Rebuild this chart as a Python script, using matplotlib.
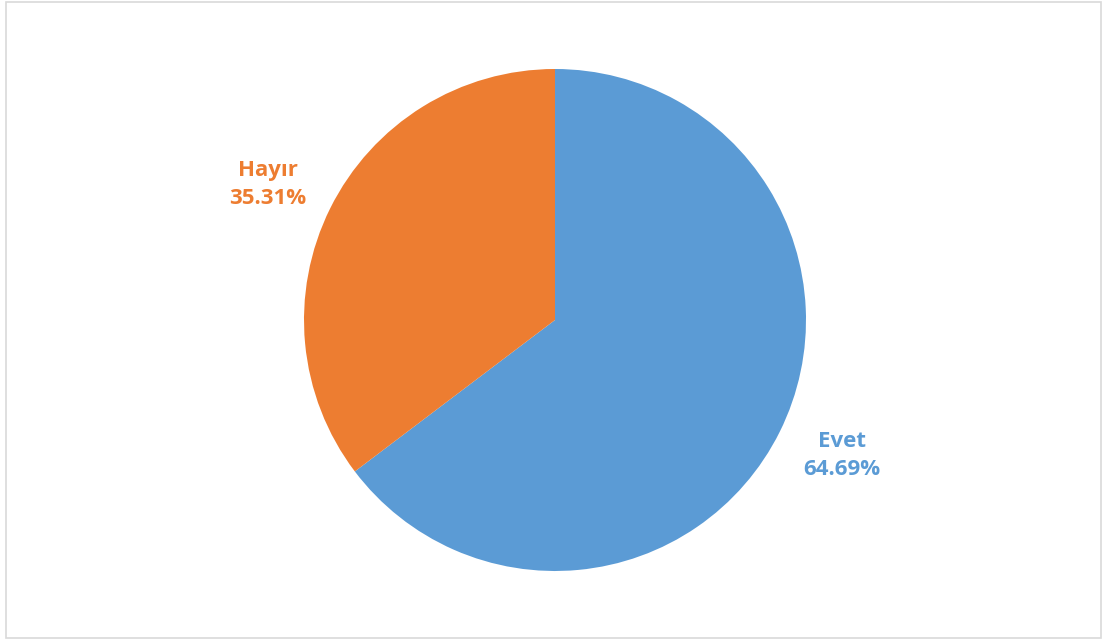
import matplotlib
matplotlib.use("Agg")
import matplotlib.pyplot as plt
from matplotlib.patches import Rectangle
import numpy as np

categories = ["Evet", "Hayır"]
values = [64.69, 35.31]
colors = ["#5B9BD5", "#ED7D31"]

W, H = 1103, 639
fig = plt.figure(figsize=(W / 100, H / 100), dpi=100)
ax = fig.add_axes([0, 0, 1, 1])

# border
fig.patches.append(Rectangle((5.5 / W, 1.5 / H), (1101 - 5.5) / W, (637 - 1.5) / H,
                             transform=fig.transFigure, fill=False,
                             edgecolor="#D9D9D9", linewidth=1.2))

center = (555, H - 320)
radius = 251
labels = [f"{c}\n{v:.2f}%" for c, v in zip(categories, values)]
wedges, texts = ax.pie(values, colors=colors, startangle=90, counterclock=False,
                       center=center, radius=radius, labels=labels,
                       labeldistance=1.26, frame=True,
                       wedgeprops=dict(linewidth=0))
ax.set_xlim(0, W)
ax.set_ylim(0, H)
ax.set_aspect("equal")
ax.axis("off")
for w, t, c in zip(wedges, texts, colors):
    mid = np.deg2rad((w.theta1 + w.theta2) / 2 + 1.2)
    d = radius * 1.265
    t.set_position((center[0] + d * np.cos(mid), center[1] + d * np.sin(mid)))
    t.set_color(c)
    t.set_fontsize(16)
    t.set_fontweight("bold")
    t.set_family(["Open Sans", "DejaVu Sans"])
    t.set_ha("center")
    t.set_va("center")
    t.set_linespacing(1.45)

fig.savefig("out.png", dpi=100)
